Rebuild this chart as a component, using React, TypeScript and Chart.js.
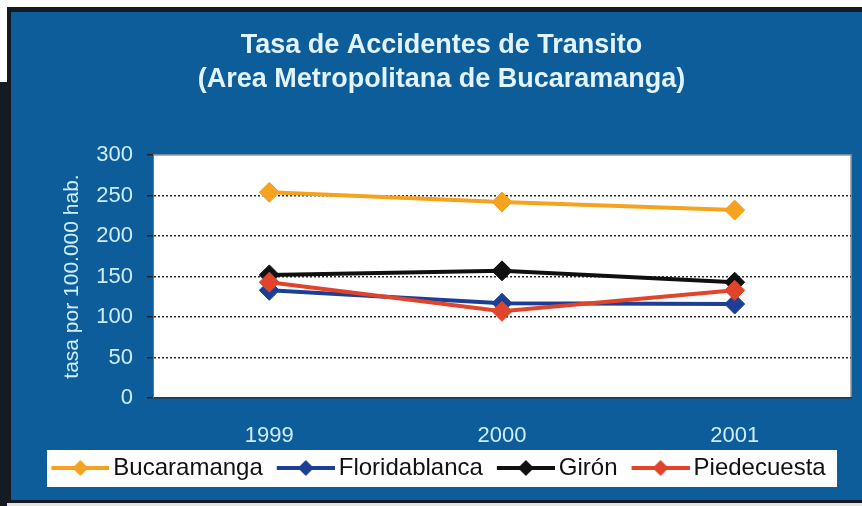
import React, { useEffect, useRef } from 'react';
import { Chart, registerables } from 'chart.js';

Chart.register(...registerables);

const categories = ['1999', '2000', '2001'];
const seriesNames = ['Bucaramanga', 'Floridablanca', 'Girón', 'Piedecuesta'];
const bucaramanga = [254, 242, 232];
const floridablanca = [133, 117, 116];
const giron = [152, 157, 143];
const piedecuesta = [143, 107, 133];
const seriesColors = ['#f5a21f', '#1c3f95', '#101010', '#e0452b'];
const titleLines = ['Tasa de Accidentes de Transito', '(Area Metropolitana de Bucaramanga)'];
const yAxisTitle = 'tasa por 100.000 hab.';
const yMin = 0;
const yMax = 300;
const yStep = 50;

const FONT = "'Liberation Sans', Arial, sans-serif";
const PANEL_BLUE = '#0e5d9b';
const LIGHT_TEXT = '#cdeeff';

function makeLegendIcon(color: string): HTMLCanvasElement {
  const c = document.createElement('canvas');
  c.width = 70;
  c.height = 24;
  const g = c.getContext('2d')!;
  g.strokeStyle = color;
  g.lineWidth = 4;
  g.beginPath();
  g.moveTo(12, 12);
  g.lineTo(70, 12);
  g.stroke();
  g.fillStyle = color;
  g.beginPath();
  g.moveTo(41, 4);
  g.lineTo(49, 12);
  g.lineTo(41, 20);
  g.lineTo(33, 12);
  g.closePath();
  g.fill();
  return c;
}

const backgroundPlugin = {
  id: 'panelBackground',
  afterLayout(chart: any) {
    if (chart.legend) {
      chart.legend.left -= 5;
      chart.legend.right -= 5;
    }
  },
  beforeDraw(chart: any) {
    const { ctx, chartArea: a, width, height } = chart;
    ctx.save();
    ctx.fillStyle = '#ffffff';
    ctx.fillRect(0, 0, width, height);
    ctx.fillStyle = PANEL_BLUE;
    ctx.fillRect(11, 12, width - 11, 488);
    ctx.fillStyle = '#151b22';
    ctx.fillRect(7, 7, width - 7, 5);
    ctx.fillRect(7, 7, 4, 496);
    ctx.fillRect(0, 82, 7, height - 82);
    ctx.fillRect(0, 500, width, 3);
    ctx.fillStyle = '#e4e4e4';
    ctx.fillRect(7, 503, width - 7, 3);
    // legend box
    ctx.fillStyle = '#ffffff';
    ctx.fillRect(47, 450, 790, 37);
    // plot area
    ctx.fillStyle = '#ffffff';
    ctx.fillRect(a.left, a.top, a.right - a.left, a.bottom - a.top);
    ctx.strokeStyle = '#9a9a9a';
    ctx.lineWidth = 1.5;
    ctx.beginPath();
    ctx.moveTo(a.left, a.top);
    ctx.lineTo(a.right, a.top);
    ctx.lineTo(a.right, a.bottom);
    ctx.stroke();
    ctx.restore();
  },
};

export default function App() {
  const canvasRef = useRef<HTMLCanvasElement | null>(null);

  useEffect(() => {
    document.body.style.margin = '0';
    document.body.style.overflow = 'hidden';
    const canvas = canvasRef.current;
    if (!canvas) return;
    const icons = seriesColors.map(makeLegendIcon);
    const values = [bucaramanga, floridablanca, giron, piedecuesta];
    const orders = [4, 3, 2, 1];

    const chart = new Chart(canvas, {
      type: 'line',
      data: {
        labels: categories,
        datasets: seriesNames.map((name, i) => ({
          label: name,
          data: values[i],
          borderColor: seriesColors[i],
          backgroundColor: seriesColors[i],
          borderWidth: 4,
          pointStyle: 'rectRot',
          pointRadius: 10,
          pointHoverRadius: 10,
          pointBorderWidth: 1,
          pointBackgroundColor: seriesColors[i],
          pointBorderColor: seriesColors[i],
          tension: 0,
          fill: false,
          order: orders[i],
        })),
      },
      options: {
        responsive: false,
        animation: false,
        layout: { padding: { left: 31, right: 10, top: 0, bottom: 16 } },
        plugins: {
          tooltip: { enabled: false },
          title: {
            display: true,
            text: titleLines,
            color: '#e2f4ff',
            font: { family: FONT, size: 27, weight: 'bold', lineHeight: 1.26 },
            padding: { top: 29, bottom: 58 },
          },
          legend: {
            display: true,
            position: 'bottom',
            labels: {
              usePointStyle: true,
              pointStyleWidth: 54,
              padding: 10,
              color: '#111111',
              font: { family: FONT, size: 24 },
              sort: (a: any, b: any) => a.datasetIndex - b.datasetIndex,
              generateLabels: (ch: any) =>
                (Chart.defaults.plugins.legend.labels as any)
                  .generateLabels(ch)
                  .map((l: any) => ({ ...l, pointStyle: icons[l.datasetIndex] })),
            },
          },
        },
        scales: {
          x: {
            type: 'category',
            offset: true,
            grid: { display: false, drawTicks: false },
            border: { display: true, color: '#333333', width: 1.5 },
            ticks: {
              color: LIGHT_TEXT,
              font: { family: FONT, size: 22 },
              padding: 25,
            },
            afterFit: (s: any) => {
              s.height = 48;
            },
          },
          y: {
            min: yMin,
            max: yMax,
            ticks: {
              stepSize: yStep,
              color: LIGHT_TEXT,
              font: { family: FONT, size: 22 },
              padding: 14,
            },
            grid: {
              drawTicks: true,
              tickLength: 6,
              color: (c: any) =>
                c.tick && (c.tick.value === yMin || c.tick.value === yMax) ? 'rgba(0,0,0,0)' : '#2a2a2a',
              lineWidth: 1.5,
              tickColor: '#222222',
              tickWidth: 1.5,
              tickBorderDash: [],
            } as any,
            border: { display: true, color: '#777777', width: 1, dash: [2, 2] } as any,
            title: {
              display: true,
              text: yAxisTitle,
              color: LIGHT_TEXT,
              font: { family: FONT, size: 21 },
              padding: { top: 29, bottom: 0 },
            },
            afterFit: (s: any) => {
              s.width = 122;
            },
          },
        },
      },
      plugins: [backgroundPlugin],
    } as any);

    return () => chart.destroy();
  }, []);

  return (
    <div style={{ width: 862, height: 506 }}>
      <canvas ref={canvasRef} width={862} height={506} style={{ display: 'block' }} />
    </div>
  );
}
